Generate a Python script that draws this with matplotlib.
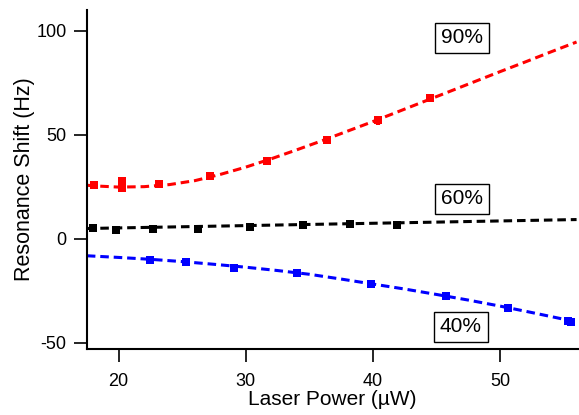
import numpy as np
import matplotlib
matplotlib.use("Agg")
import matplotlib.pyplot as plt

plt.rcParams["font.family"] = ["Liberation Sans", "DejaVu Sans"]
plt.rcParams["axes.unicode_minus"] = False

# 90% series (red)
x90 = [18.1, 20.3, 20.3, 23.2, 27.2, 31.7, 36.4, 40.4, 44.5]
y90 = [26.0, 27.6, 24.6, 26.2, 30.3, 37.5, 47.6, 57.0, 67.6]
e90 = [1.2, 1.2, 1.2, 1.5, 1.0, 1.0, 2.0, 2.2, 1.8]
fitx90 = [17.5, 18, 20, 22, 24, 26, 28, 30, 32, 34, 36, 38, 40, 42, 44, 46, 48, 50, 52, 54, 56]
fity90 = [25.8, 25.5, 24.9, 25.1, 26.1, 28.0, 31.0, 34.5, 38.5, 42.8, 47.2, 51.8, 56.4, 61.2, 66.0, 70.8, 75.6, 80.4, 85.1, 89.9, 94.6]

# 60% series (black)
x60 = [18.0, 19.8, 22.7, 26.2, 30.3, 34.5, 38.2, 41.9]
y60 = [5.4, 4.3, 5.0, 4.8, 5.6, 6.7, 7.3, 6.9]
e60 = [0.8, 1.6, 0.8, 1.2, 1.2, 0.8, 0.8, 1.6]
fitx60 = [17.5, 56]
fity60 = [5.0, 9.3]

# 40% series (blue)
x40 = [22.5, 25.3, 29.1, 34.0, 39.8, 45.7, 50.6, 55.3, 55.6]
y40 = [-9.9, -11.2, -14.0, -16.4, -21.6, -27.4, -33.2, -39.2, -40.0]
e40 = [0.9, 1.0, 0.8, 0.8, 0.6, 0.6, 0.6, 0.8, 0.6]
fitx40 = [17.5, 20, 22.5, 25, 27.5, 30, 32.5, 35, 37.5, 40, 42.5, 45, 47.5, 50, 52.5, 55, 56]
fity40 = [-8.1, -8.9, -9.8, -10.9, -12.2, -13.6, -15.2, -17.0, -19.3, -21.7, -24.1, -26.7, -29.4, -32.3, -35.4, -38.6, -40.0]

labels = ["90%", "60%", "40%"]
label_x = [47.0, 47.0, 46.9]
label_y = [96.6, 19.2, -42.3]

fig = plt.figure(figsize=(5.79, 4.15), dpi=100)
ax = fig.add_axes([0.150, 0.159, 0.848, 0.817])

dash = (0, (2.8, 1.6))
for fx, fy, x, y, e, c in [
    (fitx90, fity90, x90, y90, e90, "#ff0000"),
    (fitx60, fity60, x60, y60, e60, "#000000"),
    (fitx40, fity40, x40, y40, e40, "#0000ff"),
]:
    ax.plot(fx, fy, color=c, lw=2.2, linestyle=dash)
    ax.errorbar(x, y, yerr=e, fmt="s", color=c, ms=6, elinewidth=3,
                capsize=0, mew=0)

for t, lx, ly in zip(labels, label_x, label_y):
    ax.text(lx, ly, t, fontsize=15, ha="center", va="center",
            bbox=dict(boxstyle="square,pad=0.28", fc="white", ec="black", lw=1))

ax.set_xlim(17.5, 56.1)
ax.set_ylim(-52.9, 110)
ax.set_xticks([20, 30, 40, 50])
ax.set_yticks([-50, 0, 50, 100])
ax.spines["top"].set_visible(False)
ax.spines["right"].set_visible(False)
for s in ["left", "bottom"]:
    ax.spines[s].set_linewidth(1.5)
ax.tick_params(direction="out", length=9.5, width=1.2, labelsize=13, pad=5)
ax.tick_params(axis="x", pad=8)
ax.set_xlabel("Laser Power (µW)", fontsize=15, labelpad=0)
ax.set_ylabel("Resonance Shift (Hz)", fontsize=15.5, labelpad=1)

fig.savefig("out.png", dpi=100)
